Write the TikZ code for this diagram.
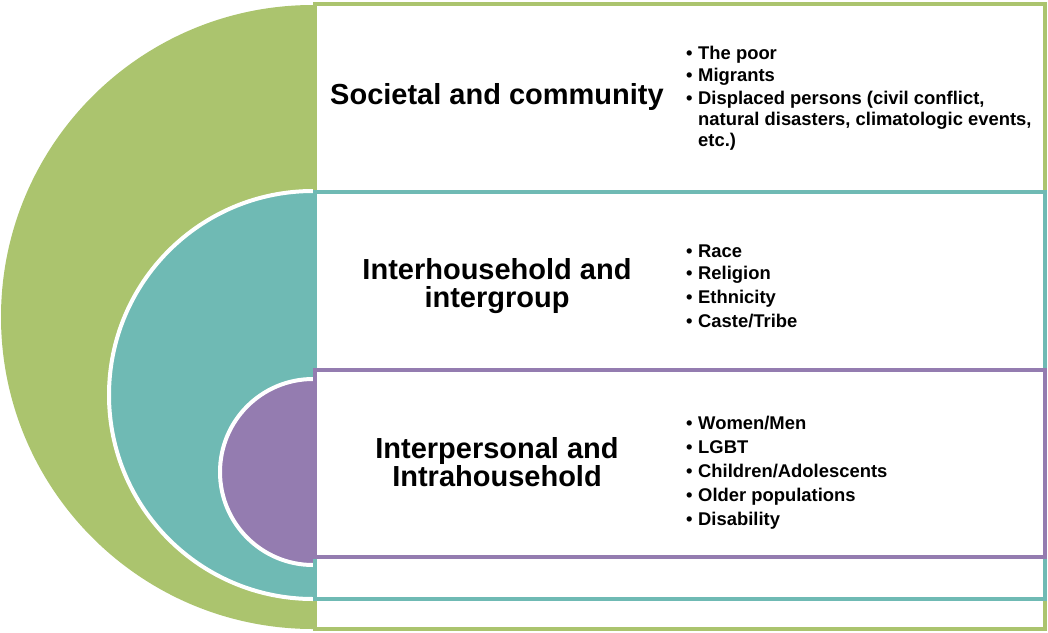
\documentclass[tikz,border=0pt]{standalone}
\usepackage{fontspec}
\setmainfont{Liberation Sans}
\usepackage{tikz}
\definecolor{ringgreen}{RGB}{171,196,110}
\definecolor{ringteal}{RGB}{111,186,180}
\definecolor{ringpurple}{RGB}{148,124,176}
\newcommand{\itm}{\makebox[12pt][l]{\textbullet}}
\newcommand{\hang}{\hspace*{12pt}}

\tikzset{
  ring/.style={draw=white, line width=4pt},
  band/.style={fill=white, line width=4pt},
  title/.style={font=\fontsize{29}{28}\selectfont\bfseries, align=center},
  list/.style={font=\fontsize{18.4}{21}\selectfont\bfseries, align=left, anchor=west, inner sep=0pt}
}

\begin{document}
\begin{tikzpicture}[x=1pt,y=-1pt]
\useasboundingbox (0,0) rectangle (1048,632);
\fill[ringgreen] (313,5) arc[start angle=270,end angle=90,radius=312];
\draw[ring, fill=ringteal] (313,191) arc[start angle=270,end angle=90,radius=204];
\draw[ring, fill=ringpurple] (313,379) arc[start angle=270,end angle=90,radius=93];
\draw[band, draw=ringgreen] (315,4) rectangle (1045,629);
\draw[band, draw=ringteal] (315,192) rectangle (1045,599);
\draw[band, draw=ringpurple] (315,370) rectangle (1045,557);
\node[title] (soc) at (497,97) {Societal and community};
\node[title] (inter) at (497,286) {Interhousehold and\\intergroup};
\node[title] (intra) at (497,462) {Interpersonal and\\Intrahousehold};
\node[list] (soclist) at (686,98) {\itm The poor\\[1pt]
  \itm Migrants\\[2pt]
  \itm Displaced persons (civil conflict,\\
  \hang natural disasters, climatologic events,\\
  \hang etc.)};
\node[list] (interlist) at (686,286) {\itm Race\\[1pt]
  \itm Religion\\[3pt]
  \itm Ethnicity\\[3pt]
  \itm Caste/Tribe};
\node[list] (intralist) at (686,473) {\itm Women/Men\\[3pt]
  \itm LGBT\\[3pt]
  \itm Children/Adolescents\\[3pt]
  \itm Older populations\\[3pt]
  \itm Disability};
\end{tikzpicture}
\end{document}
